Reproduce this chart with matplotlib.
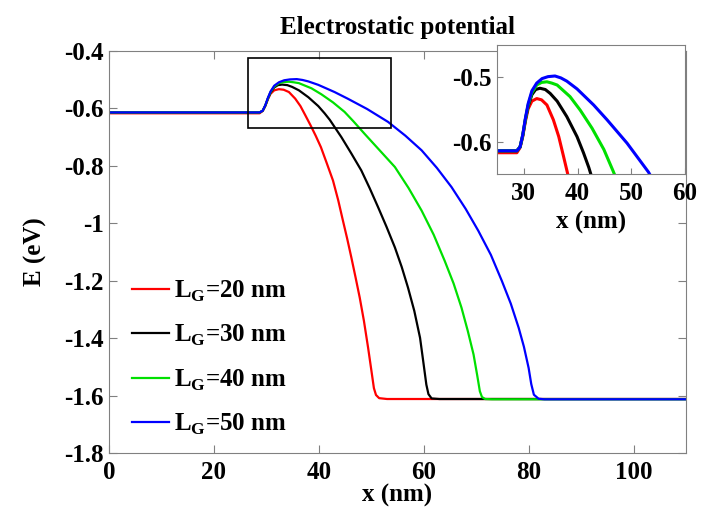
import matplotlib
matplotlib.use("Agg")
import matplotlib.pyplot as plt
from matplotlib.patches import Rectangle
from matplotlib.ticker import FormatStrFormatter

plt.rcParams['font.family'] = 'Liberation Serif'
plt.rcParams['font.weight'] = 'bold'
plt.rcParams['axes.unicode_minus'] = False
plt.rcParams['mathtext.fontset'] = 'custom'
plt.rcParams['mathtext.rm'] = 'Liberation Serif:bold'
plt.rcParams['mathtext.bf'] = 'Liberation Serif:bold'

# gate lengths and curve data
gate_len = [20, 30, 40, 50]
colors = ['#ff0000', '#000000', '#00e000', '#0000ff']

x_20 = [0, 28.7, 29.3, 29.8, 30.3, 30.8, 31.5, 32.4, 33.3, 34.3, 35.5, 36.5, 37.4, 38.4,
        39.4, 40.4, 41.5, 42.7, 43.7, 44.6, 45.4, 46.2, 47.0, 47.8, 48.6, 49.4, 50.0,
        50.5, 50.9, 51.5, 53, 110]
E_20 = [-0.617, -0.617, -0.609, -0.592, -0.568, -0.549, -0.537, -0.533, -0.535, -0.543,
        -0.566, -0.592, -0.623, -0.658, -0.695, -0.735, -0.790, -0.851, -0.920, -0.991,
        -1.053, -1.119, -1.188, -1.259, -1.340, -1.434, -1.510, -1.574, -1.598, -1.609,
        -1.612, -1.612]

x_30 = [0, 28.7, 29.3, 29.8, 30.3, 30.8, 31.5, 32.2, 33.0, 34.0, 34.9, 36.2, 38.0, 39.9,
        41.1, 42.1, 44.3, 46.2, 48.1, 49.7, 51.3, 52.9, 54.5, 55.8, 57.0, 58.2, 59.3,
        59.9, 60.5, 60.9, 61.5, 63, 110]
E_30 = [-0.614, -0.614, -0.608, -0.590, -0.565, -0.545, -0.527, -0.519, -0.517, -0.519,
        -0.525, -0.537, -0.561, -0.592, -0.617, -0.640, -0.700, -0.757, -0.816, -0.878,
        -0.944, -1.012, -1.084, -1.152, -1.224, -1.305, -1.399, -1.480, -1.562, -1.595,
        -1.610, -1.612, -1.612]

x_40 = [0, 28.7, 29.3, 29.8, 30.3, 30.8, 31.5, 32.4, 33.3, 34.3, 35.2, 36.2, 38.6, 40.5,
        42.7, 44.9, 46.6, 48.7, 51.6, 54.5, 57.1, 59.6, 61.9, 64.0, 65.7, 67.2, 68.4,
        69.5, 70.2, 70.7, 71.1, 71.7, 73, 110]
E_40 = [-0.614, -0.614, -0.608, -0.590, -0.565, -0.543, -0.524, -0.512, -0.508, -0.507,
        -0.509, -0.512, -0.530, -0.551, -0.579, -0.612, -0.645, -0.688, -0.746, -0.804,
        -0.877, -0.956, -1.040, -1.131, -1.210, -1.294, -1.375, -1.457, -1.530, -1.585,
        -1.605, -1.612, -1.613, -1.613]

x_50 = [0, 28.7, 29.3, 29.8, 30.3, 30.8, 31.5, 32.4, 33.4, 34.5, 35.8, 36.9, 38.0, 39.9,
        43.0, 45.5, 49.2, 53.2, 56.5, 59.6, 62.5, 65.3, 68.0, 70.4, 72.8, 74.9, 76.6,
        78.1, 79.1, 80.0, 80.5, 81.0, 81.9, 83, 110]
E_50 = [-0.614, -0.614, -0.608, -0.589, -0.563, -0.541, -0.521, -0.509, -0.502, -0.499,
        -0.498, -0.501, -0.506, -0.518, -0.543, -0.566, -0.602, -0.647, -0.695, -0.746,
        -0.807, -0.874, -0.950, -1.026, -1.110, -1.201, -1.280, -1.364, -1.430, -1.504,
        -1.560, -1.597, -1.611, -1.613, -1.613]

xs = [x_20, x_30, x_40, x_50]
Es = [E_20, E_30, E_40, E_50]

fig = plt.figure(figsize=(7.19, 5.17), dpi=100)
ax = fig.add_axes([0.1516, 0.1238, 0.8025, 0.7776])

for x, E, L, c in zip(xs, Es, gate_len, colors):
    ax.plot(x, E, color=c, lw=1.6, label='L$_\\mathrm{G}$=%d nm' % L)

ax.add_patch(Rectangle((26.5, -0.669), 27.3, 0.244, fill=False, edgecolor='black', lw=1.2, zorder=5))

ax.set_xlim(0, 110)
ax.set_ylim(-1.8, -0.4)
ax.set_xticks([0, 20, 40, 60, 80, 100])
ax.set_yticks([-1.8, -1.6, -1.4, -1.2, -1, -0.8, -0.6, -0.4])
ax.yaxis.set_major_formatter(FormatStrFormatter('%g'))
ax.tick_params(direction='in', top=True, right=True, labelsize=18, color='#808080', length=6)
ax.tick_params(axis='x', pad=6)
ax.tick_params(axis='y', pad=4)
for s in ax.spines.values():
    s.set_color('#808080')
ax.set_title('Electrostatic potential', fontsize=18, fontweight='bold', pad=12)
ax.set_xlabel('x (nm)', fontsize=18, fontweight='bold', labelpad=0)
ax.set_ylabel('E (eV)', fontsize=18, fontweight='bold', labelpad=12)
ax.legend(loc='upper left', bbox_to_anchor=(0.0, 0.49), frameon=False, fontsize=18,
          handlelength=1.5, handletextpad=0.2, labelspacing=0.77)

# inset zoom on the barrier top
axi = fig.add_axes([0.6912, 0.6634, 0.2615, 0.2495])
for x, E, c in zip(xs, Es, colors):
    axi.plot(x, E, color=c, lw=2.2)
axi.set_xlim(25, 60)
axi.set_ylim(-0.65, -0.45)
axi.set_xticks([30, 40, 50, 60])
axi.set_yticks([-0.6, -0.5])
axi.yaxis.set_major_formatter(FormatStrFormatter('%g'))
axi.tick_params(direction='in', labelsize=18, color='#808080', length=4)
axi.tick_params(axis='x', pad=6)
axi.tick_params(axis='y', pad=4)
for s in axi.spines.values():
    s.set_color('#808080')
axi.set_xlabel('x (nm)', fontsize=18, fontweight='bold', labelpad=4)

fig.savefig('out.png', dpi=100)
